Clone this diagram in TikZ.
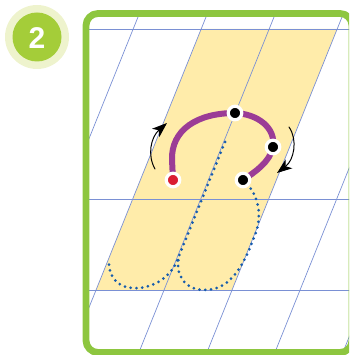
\documentclass[tikz,border=0pt]{standalone}
\usepackage{fontspec}
\setsansfont{Liberation Sans}
\usetikzlibrary{arrows.meta}
\definecolor{framegreen}{RGB}{141,198,63}
\definecolor{badgegreen}{RGB}{164,205,57}
\definecolor{badgepale}{RGB}{238,243,205}
\definecolor{bandyellow}{RGB}{255,236,170}
\definecolor{gridblue}{RGB}{122,144,212}
\definecolor{strokepurple}{RGB}{155,60,150}
\definecolor{startred}{RGB}{218,30,50}
\definecolor{traceblue}{RGB}{22,92,172}
\begin{document}
\begin{tikzpicture}[x=1pt, y=-1pt, line join=round, line cap=round, >=Stealth,
		gridline/.style={gridblue, line width=0.7pt},
		trace/.style={traceblue, line width=3pt, dash pattern=on 0pt off 5.8pt},
		penpoint/.style={circle, draw=white, line width=3.2pt, minimum size=13.5pt, inner sep=0pt},
		turnarrow/.style={black, line width=1pt, -{Stealth[length=15pt, width=11pt, inset=4pt]}}]
	\useasboundingbox (0,0) rectangle (349,355);
	\clip (0,0) rectangle (349,355);
	
	% badge
	\fill[badgepale] (37,37) circle (32);
	\fill[badgegreen] (37,37) circle (24.5);
	\node[text=white, font=\sffamily\bfseries\fontsize{30}{30}\selectfont] (num) at (37,38) {2};
	
	% writing lines
	\begin{scope}
		\clip[rounded corners=12pt] (86,13.5) rectangle (352,352.5);
		\fill[bandyellow] (201.2,29) -- (337.2,29) -- (232,290) -- (96,290) -- cycle;
		\foreach \y in {29,199,290} {
			\draw[gridline] (80,\y) -- (360,\y);
		}
		\foreach \k in {0,...,7} {
			\draw[gridline] (\k*68+8.85,0) -- ++(-145,360);
		}
	\end{scope}
	\draw[framegreen, line width=6.8pt, rounded corners=12pt] (86,13.5) rectangle (352,352.5);
	
	% stroke points
	\coordinate (s1) at (173,180);
	\coordinate (s2) at (235,113);
	\coordinate (s3) at (273,147);
	\coordinate (s4) at (243,180);
	\coordinate (stem) at (225,142);
	\coordinate (hook) at (109,261);
	
	% dotted part of the letter
	\draw[trace] (stem) -- (176.6,262) .. controls (168,280) and (150,289) .. (133,288)
		.. controls (118,288) and (108,276) .. (hook);
	\draw[trace] (s4) .. controls (260,195) and (262,217) .. (255,235)
		.. controls (245,262) and (232,290) .. (205,290)
		.. controls (184,290) and (175,274) .. (179,257);
	
	% first stroke
	\draw[strokepurple, line width=6pt] (s1) -- (172,160) .. controls (171,130) and (197,113) .. (s2)
		.. controls (258,114) and (276,128) .. (s3)
		.. controls (270,162) and (255,172) .. (s4);
	
	\node[penpoint, fill=startred] (d1) at (s1) {};
	\node[penpoint, fill=black] (d2) at (s2) {};
	\node[penpoint, fill=black] (d3) at (s3) {};
	\node[penpoint, fill=black] (d4) at (s4) {};
	
	% direction
	\coordinate (la) at (155,169);
	\coordinate (lb) at (167,123);
	\coordinate (ra) at (289,127);
	\coordinate (rb) at (277,173);
	\draw[turnarrow] (la) .. controls (147,155) and (151,137) .. (lb);
	\draw[turnarrow] (ra) .. controls (298,140) and (294,160) .. (rb);
\end{tikzpicture}
\end{document}
